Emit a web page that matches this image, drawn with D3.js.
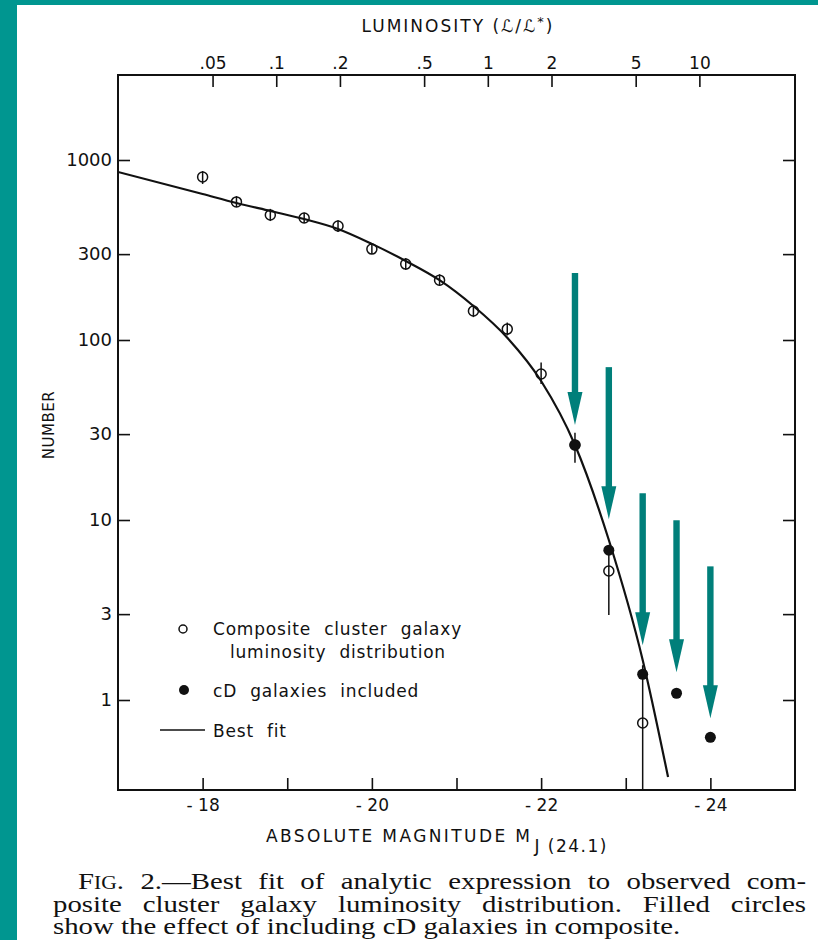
<!DOCTYPE html>
<html>
<head>
<meta charset="utf-8">
<script src="https://cdn.jsdelivr.net/npm/d3@7"></script>
<style>
  body { margin: 0; background: #fff; }
  svg { display: block; }
  text { fill: #111; }
</style>
</head>
<body>
<div id="chart"></div>
<script>
// absolute magnitude of each bin
var magBins = [-18.0, -18.4, -18.8, -19.2, -19.6, -20.0, -20.4, -20.8, -21.2, -21.6, -22.0, -22.4, -22.8, -23.2];
// composite cluster galaxy counts (open circles) and error bar ends
var compCounts = [805, 585, 495, 476, 430, 320, 264, 215, 145, 115, 64.7, 26.1, 5.21, 0.745];
var compErrLo  = [736, 548, 458, 446, 398, 300, 245, 200, 134, 106, 57, 20.8, 2.97, 0.30];
var compErrHi  = [868, 630, 535, 510, 462, 345, 285, 232, 157, 125, 75, 30.5, 6.8, 1.56];
// counts with cD galaxies included (filled circles)
var cdMags   = [-22.4, -22.8, -23.2, -23.6, -24.0];
var cdCounts = [26.1, 6.8, 1.39, 1.09, 0.62];
// best fit curve
var fitMags   = [-17.0, -18.0, -18.4, -18.8, -19.2, -19.6, -20.0, -20.4, -20.8, -21.2, -21.6, -22.0, -22.4, -22.8, -23.2, -23.5];
var fitCounts = [858, 647, 577, 521, 470, 414, 342, 275, 215, 154.5, 103, 59.2, 26.1, 7.74, 1.67, 0.373];
// axis ticks
var yTicks = [1, 3, 10, 30, 100, 300, 1000];
var xTicks = [-18, -19, -20, -21, -22, -23, -24];
var xLabels = {"-18": "- 18", "-20": "- 20", "-22": "- 22", "-24": "- 24"};
var lumTicks  = [0.05, 0.1, 0.2, 0.5, 1, 2, 5, 10];
var lumLabels = [".05", ".1", ".2", ".5", "1", "2", "5", "10"];
var mStar = -21.37;
// teal annotation arrows: gap above each cD point and length
var arrowGap = [20, 31, 29, 21, 19];
var arrowLen = 152;

var W = 818, H = 940;
var mLeft = 118, mTop = 75, mRight = 795, mBottom = 790;
var teal = "#009690", arrowTeal = "#007f7a";
var sans = "'DejaVu Sans', sans-serif";

var svg = d3.select("#chart").append("svg")
  .attr("width", W)
  .attr("height", H);

svg.append("rect").attr("width", W).attr("height", H).attr("fill", "#fff");
svg.append("rect").attr("x", 0).attr("y", 0).attr("width", 17).attr("height", H).attr("fill", teal);
svg.append("rect").attr("x", 0).attr("y", 0).attr("width", W).attr("height", 5).attr("fill", teal);

var x = d3.scaleLinear().domain([-17, -25]).range([mLeft, mRight]);
var y = d3.scaleLog().domain([Math.pow(10, -0.5), Math.pow(10, 3 + 85 / 180)]).range([mBottom, mTop]);
// luminosity scale on top, L/L* = 10^(-0.4 (M - M*))
var lum = function(m) { return Math.pow(10, -0.4 * (m - mStar)); };
var xL = d3.scaleLog().domain([lum(-17), lum(-25)]).range([mLeft, mRight]);

var g = svg.append("g");

// axes, ticks pointing into the frame
var axLeft = g.append("g").attr("transform", "translate(" + mLeft + ",0)")
  .call(d3.axisLeft(y).tickValues(yTicks).tickSizeInner(-12).tickSizeOuter(0).tickPadding(6)
    .tickFormat(d3.format("d")));
var axRight = g.append("g").attr("transform", "translate(" + mRight + ",0)")
  .call(d3.axisRight(y).tickValues(yTicks).tickSizeInner(-12).tickSizeOuter(0).tickFormat(""));
var axBottom = g.append("g").attr("transform", "translate(0," + mBottom + ")")
  .call(d3.axisBottom(x).tickValues(xTicks).tickSizeInner(-12).tickSizeOuter(0).tickPadding(9)
    .tickFormat(function(d) { return xLabels[d] || ""; }));
var axTop = g.append("g").attr("transform", "translate(0," + mTop + ")")
  .call(d3.axisTop(xL).tickValues(lumTicks).tickSizeInner(-12).tickSizeOuter(0).tickPadding(6)
    .tickFormat(function(d, i) { return lumLabels[i]; }));

[axLeft, axRight, axBottom, axTop].forEach(function(a) {
  a.select(".domain").remove();
  a.selectAll(".tick line").attr("stroke", "#111").attr("stroke-width", 1.6);
  a.selectAll(".tick text").attr("font-family", sans).attr("font-size", 17).attr("fill", "#111");
});
axLeft.selectAll(".tick text").attr("font-size", 18);

// frame
g.append("rect")
  .attr("x", mLeft).attr("y", mTop)
  .attr("width", mRight - mLeft).attr("height", mBottom - mTop)
  .attr("fill", "none").attr("stroke", "#111").attr("stroke-width", 2);

// axis titles
svg.append("text")
  .attr("x", 458).attr("y", 32)
  .attr("text-anchor", "middle")
  .attr("font-family", sans).attr("font-size", 17).attr("letter-spacing", 2)
  .html("LUMINOSITY (ℒ/ℒ<tspan dy='-6' font-size='13'>*</tspan><tspan dy='6'>)</tspan>");

var xt = svg.append("text")
  .attr("x", 266).attr("y", 842)
  .attr("font-family", sans).attr("font-size", 17).attr("letter-spacing", 2.4);
xt.append("tspan").text("ABSOLUTE MAGNITUDE M");
xt.append("tspan").attr("dy", 10).attr("dx", 2).attr("letter-spacing", 1.5).text("J (24.1)");

svg.append("text")
  .attr("transform", "translate(54,425) rotate(-90)")
  .attr("text-anchor", "middle")
  .attr("font-family", sans).attr("font-size", 15).attr("letter-spacing", 0.5)
  .text("NUMBER");

// clip for data marks
svg.append("clipPath").attr("id", "plotclip")
  .append("rect").attr("x", mLeft).attr("y", mTop).attr("width", mRight - mLeft).attr("height", mBottom - mTop);
var plot = svg.append("g").attr("clip-path", "url(#plotclip)");

// best fit line
var line = d3.line()
  .x(function(d) { return x(d[0]); })
  .y(function(d) { return y(d[1]); })
  .curve(d3.curveMonotoneX);
plot.append("path")
  .datum(d3.zip(fitMags, fitCounts))
  .attr("d", line)
  .attr("fill", "none").attr("stroke", "#111").attr("stroke-width", 2.2);

// error bars
plot.selectAll(".err")
  .data(magBins)
  .enter().append("line")
  .attr("x1", function(d) { return x(d); })
  .attr("x2", function(d) { return x(d); })
  .attr("y1", function(d, i) { return y(compErrLo[i]); })
  .attr("y2", function(d, i) { return y(compErrHi[i]); })
  .attr("stroke", "#111").attr("stroke-width", 1.5);

// open circles
plot.selectAll(".open")
  .data(magBins)
  .enter().append("circle")
  .attr("cx", function(d) { return x(d); })
  .attr("cy", function(d, i) { return y(compCounts[i]); })
  .attr("r", 5)
  .attr("fill", "none").attr("stroke", "#111").attr("stroke-width", 1.5);

// filled circles
plot.selectAll(".filled")
  .data(cdMags)
  .enter().append("circle")
  .attr("cx", function(d) { return x(d); })
  .attr("cy", function(d, i) { return y(cdCounts[i]); })
  .attr("r", 5.5)
  .attr("fill", "#111");

// teal arrows pointing at the cD points
var arrows = svg.append("g").attr("fill", arrowTeal);
cdMags.forEach(function(m, i) {
  var ax = x(m), tip = y(cdCounts[i]) - arrowGap[i];
  var head = 33, shaft = 3.2, hw = 7.5;
  arrows.append("rect")
    .attr("x", ax - shaft).attr("y", tip - arrowLen)
    .attr("width", shaft * 2).attr("height", arrowLen - head + 1);
  arrows.append("path")
    .attr("d", "M" + (ax - hw) + "," + (tip - head) + "L" + (ax + hw) + "," + (tip - head) + "L" + ax + "," + tip + "Z");
});

// legend
var lg = svg.append("g").attr("font-family", sans).attr("font-size", 17)
  .attr("letter-spacing", 0.8).attr("word-spacing", 7);
lg.append("circle").attr("cx", 183).attr("cy", 629).attr("r", 4)
  .attr("fill", "none").attr("stroke", "#111").attr("stroke-width", 1.5);
lg.append("text").attr("x", 213).attr("y", 635).text("Composite cluster galaxy");
lg.append("text").attr("x", 230).attr("y", 658).text("luminosity distribution");
lg.append("circle").attr("cx", 184).attr("cy", 690).attr("r", 5).attr("fill", "#111");
lg.append("text").attr("x", 213).attr("y", 697).text("cD galaxies included");
lg.append("line").attr("x1", 160).attr("x2", 205).attr("y1", 730).attr("y2", 730)
  .attr("stroke", "#111").attr("stroke-width", 1.6);
lg.append("text").attr("x", 213).attr("y", 737).text("Best fit");

// caption, justified by hand (wide Times look: stretched horizontally)
var serif = "'Liberation Serif', 'Times New Roman', serif";
var capScale = 1.2, capLeft = 53, capRight = 806;
var capLines = [
  {x0: 78, y: 889, words: ["F|IG.", "2.—Best", "fit", "of", "analytic", "expression", "to", "observed", "com-"], justify: true},
  {x0: 53, y: 912, words: ["posite", "cluster", "galaxy", "luminosity", "distribution.", "Filled", "circles"], justify: true},
  {x0: 53, y: 934, words: ["show", "the", "effect", "of", "including", "cD", "galaxies", "in", "composite."], justify: false}
];
var cap = svg.append("g")
  .attr("transform", "translate(" + capLeft + ",0) scale(" + capScale + ",1)")
  .attr("font-family", serif).attr("font-size", 24);
capLines.forEach(function(ln) {
  var nodes = ln.words.map(function(w) {
    var t = cap.append("text").attr("y", ln.y);
    if (w.indexOf("|") >= 0) {
      var parts = w.split("|");
      t.append("tspan").text(parts[0]);
      t.append("tspan").attr("font-size", 18).text(parts[1].slice(0, 2));
      t.append("tspan").text(parts[1].slice(2));
    } else {
      t.text(w);
    }
    return t;
  });
  var widths = nodes.map(function(t) { return t.node().getComputedTextLength(); });
  var total = d3.sum(widths);
  var x0 = (ln.x0 - capLeft) / capScale, x1 = (capRight - capLeft) / capScale;
  var gap = ln.justify ? (x1 - x0 - total) / (nodes.length - 1) : 6;
  var cx = x0;
  nodes.forEach(function(t, i) {
    t.attr("x", cx);
    cx += widths[i] + gap;
  });
});
</script>
</body>
</html>
